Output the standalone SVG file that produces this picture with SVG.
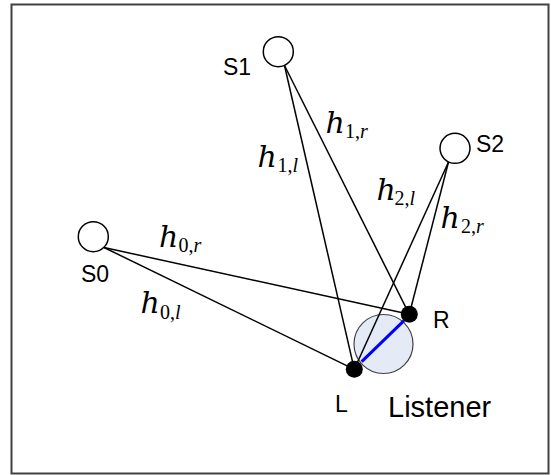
<svg xmlns="http://www.w3.org/2000/svg" width="551" height="475" viewBox="0 0 551 475">
<style>
.frame{fill:#fff;stroke:#404040;stroke-width:2}
.src{fill:#fff;stroke:#000;stroke-width:1.5}
.ear{fill:#000}
.conn{stroke:#000;stroke-width:1.5;fill:none}
.lbl{font-family:"Liberation Sans",Arial,sans-serif;font-size:23px;fill:#000}
.m{font-family:"DejaVu Serif","Liberation Serif",serif;font-style:italic;font-size:30px;fill:#000}
.s{font-family:"Liberation Serif","Times New Roman",serif;font-size:20px}
.up{font-style:normal}
</style>
<rect class="frame" x="11.5" y="4.5" width="537" height="469"/>
<g id="listener">
<circle cx="383.5" cy="344" r="29.5" fill="#e4eaf6" stroke="#404040" stroke-width="1.2"/>
<text class="lbl" x="388" y="416.7" style="font-size:29px">Listener</text>
</g>
<g id="connectors">
<line class="conn" x1="104" y1="247.5" x2="409.3" y2="314.3"/>
<line class="conn" x1="104" y1="247.5" x2="354.3" y2="369.3"/>
<line class="conn" x1="284.5" y1="65.5" x2="409.3" y2="314.3"/>
<line class="conn" x1="284.5" y1="65.5" x2="354.3" y2="369.3"/>
<line class="conn" x1="448.5" y1="162" x2="409.3" y2="314.3"/>
<line class="conn" x1="448.5" y1="162" x2="354.3" y2="369.3"/>
<line x1="361.7" y1="361.7" x2="404" y2="320.7" stroke="#0000ff" stroke-width="3"/>
</g>
<g id="S0">
<circle class="src" cx="93.3" cy="236.7" r="15"/>
<text class="lbl" x="81" y="281.7">S0</text>
</g>
<g id="S1">
<circle class="src" cx="278.3" cy="51.7" r="15"/>
<text class="lbl" x="223" y="75">S1</text>
</g>
<g id="S2">
<circle class="src" cx="455" cy="148.3" r="15"/>
<text class="lbl" x="476" y="152.3">S2</text>
</g>
<g id="L">
<circle class="ear" cx="354.3" cy="369.3" r="8.5"/>
<text class="lbl" x="335" y="411.7">L</text>
</g>
<g id="R">
<circle class="ear" cx="409.3" cy="314.3" r="8.5"/>
<text class="lbl" x="433" y="328">R</text>
</g>
<g id="labels">
<text class="m" x="159" y="246.7">h<tspan class="s up" x="178.5" y="251.5">0,</tspan><tspan class="s">r</tspan></text>
<text class="m" x="140.5" y="313.3">h<tspan class="s up" x="160" y="318.5">0,</tspan><tspan class="s">l</tspan></text>
<text class="m" x="325.5" y="133.3">h<tspan class="s up" x="345" y="138">1,</tspan><tspan class="s">r</tspan></text>
<text class="m" x="257.5" y="166.7">h<tspan class="s up" x="277.5" y="171.5">1,</tspan><tspan class="s">l</tspan></text>
<text class="m" x="376.5" y="200">h<tspan class="s up" x="394.5" y="205">2,</tspan><tspan class="s">l</tspan></text>
<text class="m" x="440.5" y="228.3">h<tspan class="s up" x="461" y="233">2,</tspan><tspan class="s">r</tspan></text>
</g>
</svg>
